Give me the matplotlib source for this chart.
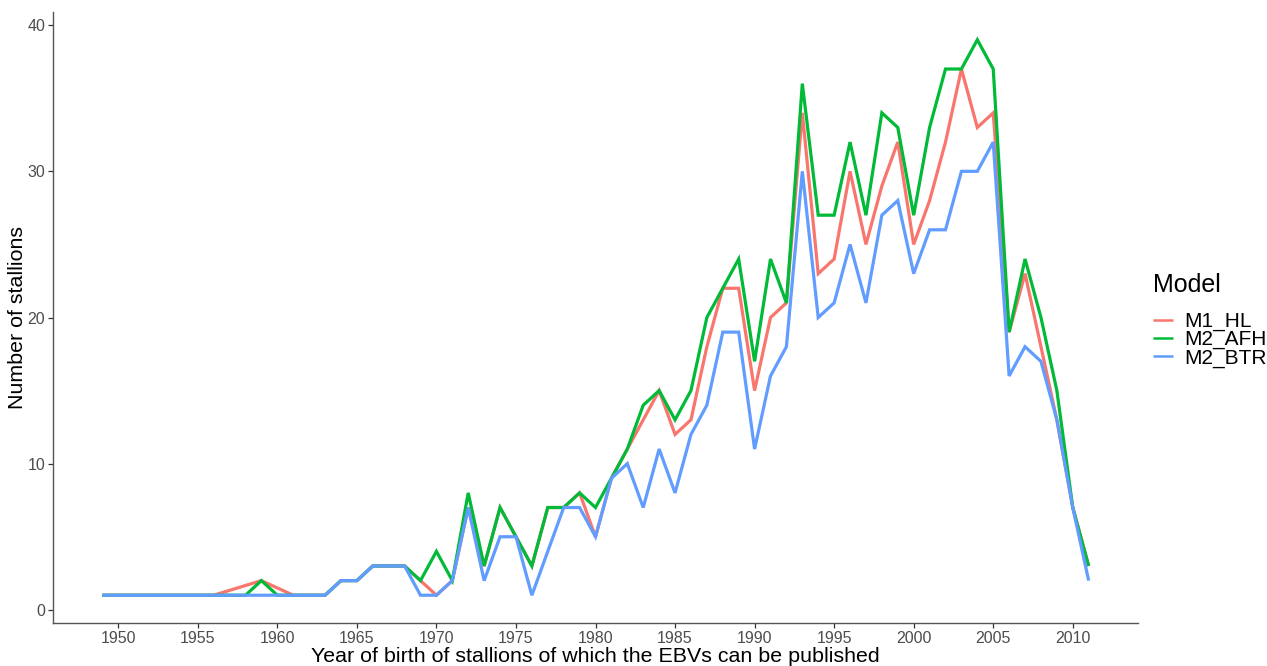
import numpy as np
import matplotlib
matplotlib.use("Agg")
import matplotlib.pyplot as plt

plt.rcParams['font.family'] = ['Liberation Sans', 'DejaVu Sans']

years = list(range(1949, 2012))

# Number of stallions per birth year for each model (None = no stallion that year)
m1_hl = [1, 1, 1, 1, 1, 1, 1, 1, None, None, 2, None, 1, 1, 1,
         2, 2, 3, 3, 3, 2, 1, 2, 7, 3, 7, 5, 3, 7, 7, 8, 5, 9, 11, 13,
         15, 12, 13, 18, 22, 22, 15, 20, 21, 34, 23, 24, 30, 25, 29, 32,
         25, 28, 32, 37, 33, 34, 19, 23, 18, 13, 7, 3]
m2_afh = [1, 1, 1, 1, 1, 1, 1, 1, 1, 1, 2, 1, 1, 1, 1,
          2, 2, 3, 3, 3, 2, 4, 2, 8, 3, 7, 5, 3, 7, 7, 8, 7, 9, 11, 14,
          15, 13, 15, 20, 22, 24, 17, 24, 21, 36, 27, 27, 32, 27, 34, 33,
          27, 33, 37, 37, 39, 37, 19, 24, 20, 15, 7, 3]
m2_btr = [1, 1, 1, 1, 1, 1, 1, 1, 1, 1, 1, 1, 1, 1, 1,
          2, 2, 3, 3, 3, 1, 1, 2, 7, 2, 5, 5, 1, 4, 7, 7, 5, 9, 10, 7,
          11, 8, 12, 14, 19, 19, 11, 16, 18, 30, 20, 21, 25, 21, 27, 28,
          23, 26, 26, 30, 30, 32, 16, 18, 17, 13, 7, 2]

series_names = ["M1_HL", "M2_AFH", "M2_BTR"]
series_values = [m1_hl, m2_afh, m2_btr]
series_colors = ["#F8766D", "#00BA38", "#619CFF"]

x_ticks = list(range(1950, 2011, 5))
y_ticks = [0, 10, 20, 30, 40]

fig = plt.figure(figsize=(12.67, 6.66), dpi=100)
ax = fig.add_axes([53 / 1267, 43 / 666, (1138 - 53) / 1267, (623 - 12) / 666])

handles = []
for name, vals, col in zip(series_names, series_values, series_colors):
    xs = [y for y, v in zip(years, vals) if v is not None]
    ys = [v for v in vals if v is not None]
    h, = ax.plot(xs, ys, color=col, lw=2.3, solid_joinstyle='miter',
                 solid_capstyle='butt', label=name)
    handles.append(h)

# ggplot-like 5% expansion of the data range
x0, x1 = min(years), max(years)
ymin = min(min(v for v in s if v is not None) for s in series_values)
ymax = max(max(v for v in s if v is not None) for s in series_values)
xpad = 0.05 * (x1 - x0)
ypad = 0.05 * (ymax - ymin)
ax.set_xlim(x0 - xpad, x1 + xpad)
ax.set_ylim(ymin - ypad, ymax + ypad)

ax.set_xticks(x_ticks)
ax.set_yticks(y_ticks)
ax.tick_params(axis='both', colors='#333333', labelcolor='#4D4D4D',
               labelsize=11.5, length=3.5, width=0.9, pad=2)

for side in ['top', 'right']:
    ax.spines[side].set_visible(False)
for side in ['left', 'bottom']:
    ax.spines[side].set_color('#555555')
    ax.spines[side].set_linewidth(1.0)

ax.set_xlabel("Year of birth of stallions of which the EBVs can be published",
              fontsize=15.4, color='black', labelpad=1)
ax.set_ylabel("Number of stallions", fontsize=15.4, color='black', labelpad=0)

# Legend title and keys
fig.text(1153 / 1267, 1 - 285 / 666, "Model", fontsize=18, color='black',
         ha='left', va='center')
leg = fig.legend(handles=handles, labels=series_names,
                 loc='upper left', bbox_to_anchor=(1153 / 1267, 1 - 312 / 666),
                 frameon=False, fontsize=15,
                 handlelength=0.95, handletextpad=0.55, labelspacing=-0.05,
                 borderaxespad=0, borderpad=0)
for line in leg.get_lines():
    line.set_linewidth(1.8)

fig.savefig("out.png", dpi=100)
